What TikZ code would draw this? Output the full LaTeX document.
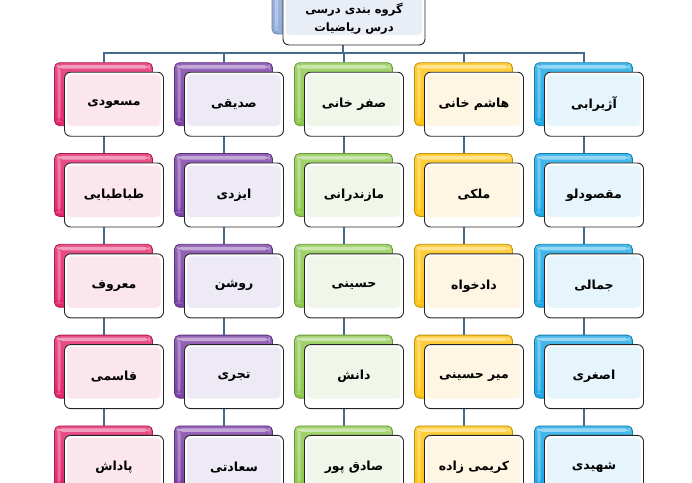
\documentclass[tikz,border=0pt]{standalone}
\usepackage{fontspec}
\newfontfamily\arabicfont[Script=Arabic]{DejaVu Sans}
\TeXXeTstate=1
\definecolor{cyanc}{HTML}{1AA7E6}
\definecolor{yellowc}{HTML}{FFC20E}
\definecolor{greenc}{HTML}{8CC84B}
\definecolor{purplec}{HTML}{7B3FA6}
\definecolor{pinkc}{HTML}{E3256B}
\definecolor{bluec}{HTML}{8EAAD8}
\definecolor{cyant}{HTML}{E6F4FC}
\definecolor{yellowt}{HTML}{FEF6E2}
\definecolor{greent}{HTML}{F0F6E9}
\definecolor{purplet}{HTML}{EEEAF5}
\definecolor{pinkt}{HTML}{FCE6EE}
\definecolor{bluet}{HTML}{E9EEF6}
\definecolor{linec}{HTML}{466A8C}
\pgfdeclarelayer{background}
\pgfsetlayers{background,main}
\tikzset{
  bk/.style={rectangle, rounded corners=5pt, minimum width=98pt, minimum height=63pt,
    inner sep=0pt, draw=#1c!75!black, line width=0.8pt,
    top color=#1c!80!white, bottom color=#1c,
    path picture={\fill[white,opacity=0.45] ([xshift=3pt,yshift=-2.5pt]path picture bounding box.north west) rectangle ([xshift=-3pt,yshift=-6pt]path picture bounding box.north east);
      \fill[white,opacity=0.3] ([xshift=3pt,yshift=-3pt]path picture bounding box.north west) rectangle ([xshift=6pt,yshift=4pt]path picture bounding box.south west);}},
  fr/.style={rectangle, rounded corners=6pt, minimum width=99pt, minimum height=64pt,
    inner sep=0pt, draw=black!85, line width=0.9pt, fill=white,
    path picture={\fill[#1t, rounded corners=4pt] ([xshift=2.5pt,yshift=-2.5pt]path picture bounding box.north west) rectangle ([xshift=-3pt,yshift=10pt]path picture bounding box.south east);},
    font=\arabicfont\bfseries\fontsize{12.5}{15}\selectfont},
  conn/.style={draw=linec, line width=2pt}
}
\newcommand\cellpair[4]{%
  \node[bk=#3] (b#1#2) at ({103.5+120*#1},{94.2+90.8*#2}) {};
  \node[fr=#3] (f#1#2) at ([xshift=10.5pt,yshift=-10pt]b#1#2.center) {#4};
}
\begin{document}
\begin{tikzpicture}[x=1pt,y=-1pt]
\useasboundingbox (0,0) rectangle (692,482);
% top node
\node[bk=blue, minimum width=142pt, minimum height=64pt] (topb) at (343,2) {};
\node[fr=blue, minimum width=142pt, minimum height=64pt] (topf) at (354,13) {};
\node[align=center, inner sep=0pt, font=\arabicfont\bfseries\fontsize{11.5}{18}\selectfont] (topt) at (354,18.5) {\beginR گروه بندی درسی\endR\\\beginR درس ریاضیات\endR};
% pink column
\cellpair{0}{0}{pink}{\beginR مسعودی\endR}
\cellpair{0}{1}{pink}{\beginR طباطبایی\endR}
\cellpair{0}{2}{pink}{\beginR معروف\endR}
\cellpair{0}{3}{pink}{\beginR قاسمی\endR}
\cellpair{0}{4}{pink}{\beginR پاداش\endR}
% purple column
\cellpair{1}{0}{purple}{\beginR صدیقی\endR}
\cellpair{1}{1}{purple}{\beginR ایزدی\endR}
\cellpair{1}{2}{purple}{\beginR روشن\endR}
\cellpair{1}{3}{purple}{\beginR تجری\endR}
\cellpair{1}{4}{purple}{\beginR سعادتی\endR}
% green column
\cellpair{2}{0}{green}{\beginR صفر خانی\endR}
\cellpair{2}{1}{green}{\beginR مازندرانی\endR}
\cellpair{2}{2}{green}{\beginR حسینی\endR}
\cellpair{2}{3}{green}{\beginR دانش\endR}
\cellpair{2}{4}{green}{\beginR صادق پور\endR}
% yellow column
\cellpair{3}{0}{yellow}{\beginR هاشم خانی\endR}
\cellpair{3}{1}{yellow}{\beginR ملکی\endR}
\cellpair{3}{2}{yellow}{\beginR دادخواه\endR}
\cellpair{3}{3}{yellow}{\beginR میر حسینی\endR}
\cellpair{3}{4}{yellow}{\beginR کریمی زاده\endR}
% cyan column
\cellpair{4}{0}{cyan}{\beginR آژیرابی\endR}
\cellpair{4}{1}{cyan}{\beginR مقصودلو\endR}
\cellpair{4}{2}{cyan}{\beginR جمالی\endR}
\cellpair{4}{3}{cyan}{\beginR اصغری\endR}
\cellpair{4}{4}{cyan}{\beginR شهیدی\endR}
\coordinate (bus) at (343,53);
\begin{pgfonlayer}{background}
  \draw[conn] (topb.south) -- (bus);
  \draw[conn] (b00.north) -- (b00.north |- bus) -- (b40.north |- bus) -- (b40.north);
  \foreach \k in {1,2,3} {\draw[conn] (b\k0.north |- bus) -- (b\k0.north);}
  \foreach \k in {0,...,4} {
    \foreach \r/\s in {0/1,1/2,2/3,3/4} {\draw[conn] (b\k\r.south) -- (b\k\s.north);}
  }
\end{pgfonlayer}
\end{tikzpicture}
\end{document}
